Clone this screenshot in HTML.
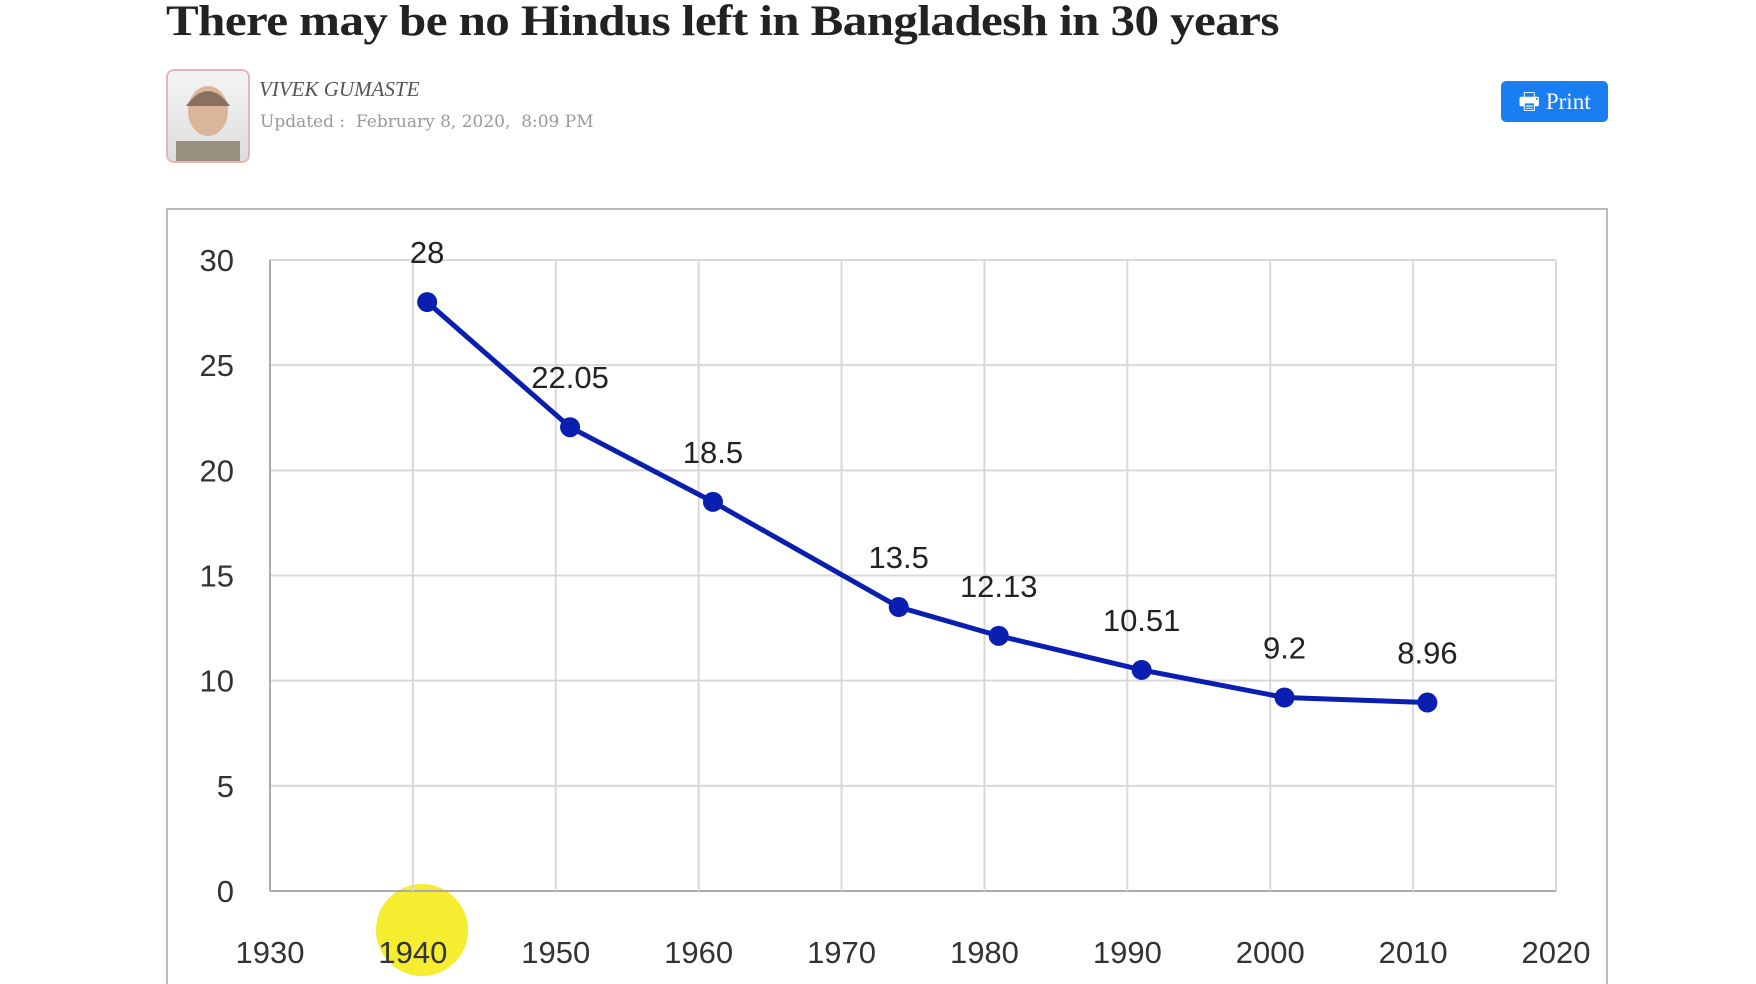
<!DOCTYPE html>
<html style="overflow:hidden;height:984px;"><head><meta charset="utf-8">
<style>
html,body{margin:0;width:1756px;height:984px;overflow:hidden;}
body{background:#fff;position:relative;font-family:"Liberation Serif",serif;}
.title{position:absolute;left:166px;top:-3px;font-size:43px;font-weight:bold;color:#222;letter-spacing:-0.5px;white-space:nowrap;transform:scaleX(1.14);transform-origin:left top;}
.avatar{position:absolute;left:166px;top:69px;width:80px;height:90px;border:2px solid #e8b4b4;border-radius:8px;background:linear-gradient(#f4f4f4,#ddd);overflow:hidden;}
.author{position:absolute;left:259px;top:77px;font-size:21px;font-style:italic;color:#555;}
.updated{position:absolute;left:260px;top:112px;font-size:17px;color:#999;font-family:"DejaVu Serif",serif;white-space:nowrap;}
.print{position:absolute;left:1501px;top:81px;width:107px;height:41px;background:#1a7ef0;border-radius:5px;color:#fff;font-size:23px;line-height:41px;text-align:center;}
.chartbox{position:absolute;left:166px;top:208px;width:1438px;height:790px;border:2px solid #bbb;border-bottom:none;}
</style></head><body>
<div class="title">There may be no Hindus left in Bangladesh in 30 years</div>
<div class="avatar">
<svg width="80" height="90"><ellipse cx="40" cy="40" rx="20" ry="25" fill="#d9b59a"/><path d="M18 35 Q40 5 62 35" fill="#8a7060"/><rect x="8" y="70" width="64" height="25" fill="#9a9080"/></svg>
</div>
<div class="author">VIVEK GUMASTE</div>
<div class="updated">Updated&nbsp;:&nbsp; February 8, 2020,&nbsp; 8:09 PM</div>
<div class="print">🖶 Print</div>
<div class="chartbox"></div>
<svg id="chart" width="1756" height="984" style="position:absolute;left:0;top:0"></svg>
<script>
const years=[1941,1951,1961,1974,1981,1991,2001,2011];
const values=[28,22.05,18.5,13.5,12.13,10.51,9.2,8.96];
const valueLabels=["28","22.05","18.5","13.5","12.13","10.51","9.2","8.96"];
const xTicks=[1930,1940,1950,1960,1970,1980,1990,2000,2010,2020];
const yTicks=[0,5,10,15,20,25,30];
const X0=270,X1=1556,Y0=891,Y1=260;
const sx=v=>X0+(v-1930)/90*(X1-X0);
const sy=v=>Y0-(v/30)*(Y0-Y1);
const svg=document.getElementById('chart');
const NS='http://www.w3.org/2000/svg';
function mk(t,a){const e=document.createElementNS(NS,t);for(const k in a)e.setAttribute(k,a[k]);svg.appendChild(e);return e;}
const hl=mk('circle',{cx:422,cy:930,r:46,fill:'#f5ea1a',opacity:0.9});


yTicks.forEach(t=>{const l=mk('line',{x1:X0,x2:X1,y1:sy(t),y2:sy(t),stroke:t===0?'#aaa':'#d9d9d9','stroke-width':2});


const tx=mk('text',{x:234,y:sy(t)+11,'text-anchor':'end','font-size':31,fill:'#333','font-family':'Liberation Sans, sans-serif'});tx.textContent=t;

});
xTicks.forEach(t=>{const l=mk('line',{x1:sx(t),x2:sx(t),y1:Y1,y2:Y0,stroke:t===1930?'#aaa':'#d9d9d9','stroke-width':2});


const tx=mk('text',{x:sx(t),y:963,'text-anchor':'middle','font-size':31,fill:'#333','font-family':'Liberation Sans, sans-serif'});tx.textContent=t;

});
const pl=mk('polyline',{points:years.map((y,i)=>sx(y)+','+sy(values[i])).join(' '),fill:'none',stroke:'#0a1fb0','stroke-width':5});


years.forEach((y,i)=>{const c=mk('circle',{cx:sx(y),cy:sy(values[i]),r:10,fill:'#0a1fb0'});


const tx=mk('text',{x:sx(y),y:sy(values[i])-39,'text-anchor':'middle','font-size':31,fill:'#222','font-family':'Liberation Sans, sans-serif'});tx.textContent=valueLabels[i];

});
</script>
</body></html>
